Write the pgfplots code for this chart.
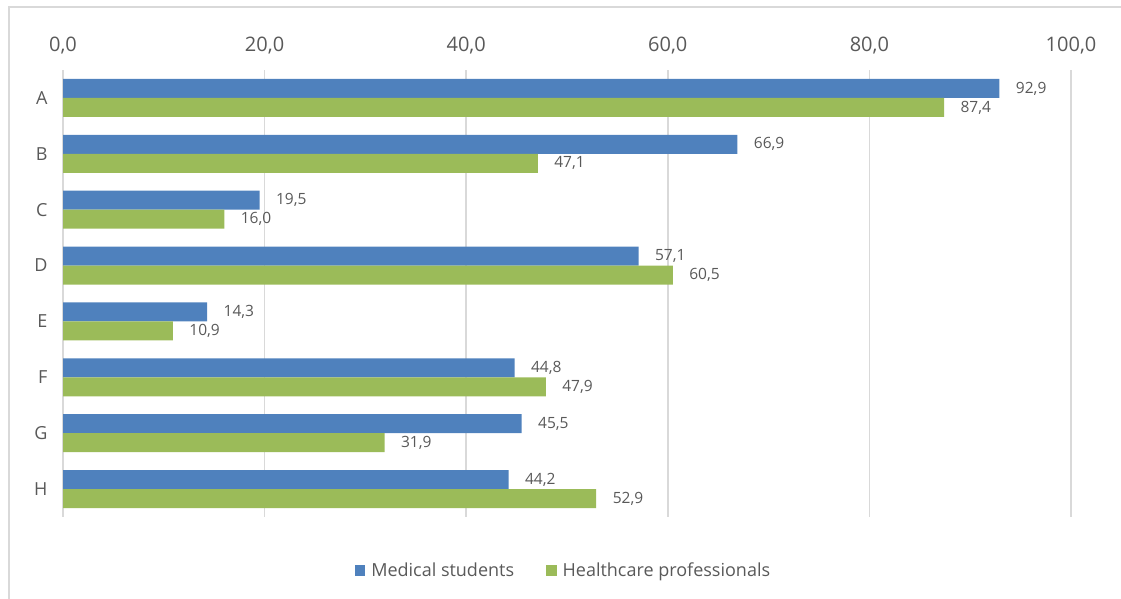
\documentclass[border=0pt]{standalone}
\usepackage{fontspec}
\setmainfont{Open Sans}
\usepackage{pgfplots}
\pgfplotsset{compat=1.18}
\definecolor{blueS}{HTML}{4F81BD}
\definecolor{greenS}{HTML}{9BBB59}
\definecolor{gridc}{HTML}{D9D9D9}
\definecolor{txt}{HTML}{595959}
\begin{document}
\begin{tikzpicture}[x=1pt,y=1pt]
\begin{axis}[
  at={(63pt,529pt)}, anchor=north west,
  scale only axis, width=1008pt, height=447pt,
  xbar, bar width=19pt,
  xmin=0, xmax=100, ymin=-0.5, ymax=7.5,
  ytick={0,1,2,3,4,5,6,7}, yticklabels={H,G,F,E,D,C,B,A},
  xtick={0,20,40,60,80,100},
  xticklabel pos=top,
  xmajorgrids, grid style={gridc, line width=1.5pt},
  axis line style={draw=none},
  major tick length=0,
  /pgf/number format/.cd, fixed, fixed zerofill, precision=1, use comma, assume math mode=true,
  /pgfplots/.cd,
  xticklabel style={font=\fontsize{20}{20}\selectfont, text=txt, yshift=12pt},
  yticklabel style={font=\fontsize{18}{18}\selectfont, text=txt, xshift=-12pt},
  nodes near coords,
  nodes near coords style={font=\fontsize{15.5}{15.5}\selectfont, text=txt, xshift=13pt},
  legend style={at={(0.4965,-0.1186)}, anchor=center, draw=none, fill=none,
    legend columns=2, font=\fontsize{18}{18}\selectfont, text=txt,
    /tikz/every even column/.append style={column sep=30pt}},
  legend image code/.code={\fill[#1] (0pt,-5.5pt) rectangle (10.5pt,5.5pt); \path (14.5pt,0pt);},
]
\addplot[fill=blueS, draw=none, bar shift=9.5pt] coordinates {
(92.9,7) (66.9,6) (19.5,5) (57.1,4) (14.3,3) (44.8,2) (45.5,1) (44.2,0)};
\addplot[fill=greenS, draw=none, bar shift=-9.5pt] coordinates {
(87.4,7) (47.1,6) (16.0,5) (60.5,4) (10.9,3) (47.9,2) (31.9,1) (52.9,0)};
\legend{Medical students, Healthcare professionals}
\end{axis}
\draw[gridc, line width=2pt] (9pt,0pt) -- (9pt,592pt) -- (1121pt,592pt);
\pgfresetboundingbox
\useasboundingbox (0pt,0pt) rectangle (1121pt,599pt);
\end{tikzpicture}
\end{document}
